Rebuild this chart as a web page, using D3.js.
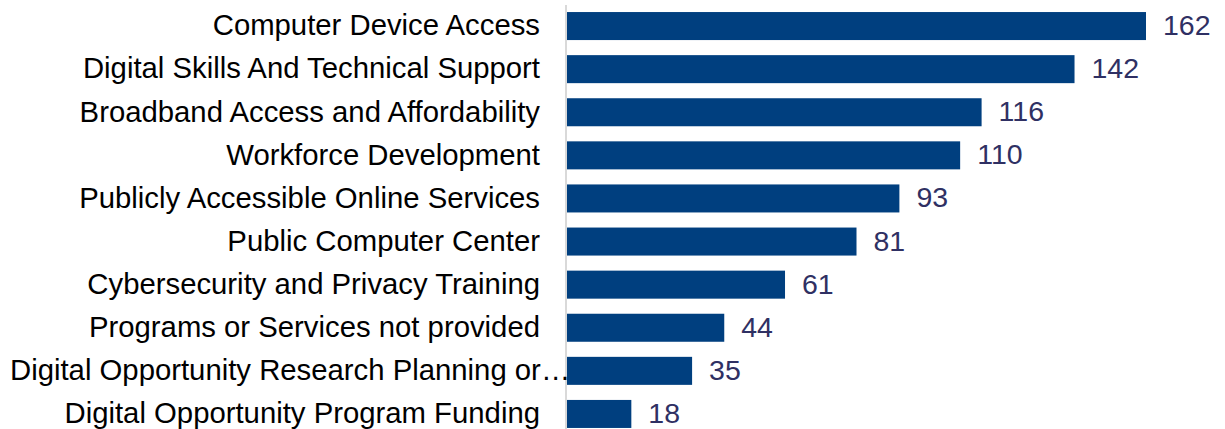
<!DOCTYPE html>
<html><head><meta charset="utf-8">
<script src="https://cdn.jsdelivr.net/npm/d3@7"></script>
<style>html,body{margin:0;padding:0;background:#fff;overflow:hidden}</style>
</head><body>
<svg id="c" width="1225" height="429"></svg>
<script>
const categories = [
  "Computer Device Access",
  "Digital Skills And Technical Support",
  "Broadband Access and Affordability",
  "Workforce Development",
  "Publicly Accessible Online Services",
  "Public Computer Center",
  "Cybersecurity and Privacy Training",
  "Programs or Services not provided",
  "Digital Opportunity Research Planning or…",
  "Digital Opportunity Program Funding"
];
const values = [162, 142, 116, 110, 93, 81, 61, 44, 35, 18];

const svg = d3.select("#c");
const x0 = 567;
const x = d3.scaleLinear().domain([0, 162]).range([x0, 1146]);
const y = d3.scaleBand().domain(categories).range([4.5, 435.5]).paddingInner(0.35).paddingOuter(0.175);
const font = "Arial, 'Liberation Sans', sans-serif";

svg.append("line").attr("x1", 566).attr("x2", 566).attr("y1", 5).attr("y2", 429)
  .attr("stroke", "#d9d9d9").attr("stroke-width", 2);

svg.selectAll("rect.bar").data(values).join("rect").attr("class", "bar")
  .attr("x", x(0)).attr("y", (d, i) => y(categories[i]))
  .attr("width", d => x(d) - x(0)).attr("height", y.bandwidth())
  .attr("fill", "#003f7f");

svg.selectAll("text.val").data(values).join("text").attr("class", "val")
  .attr("x", d => x(d) + 17).attr("y", (d, i) => y(categories[i]) + y.bandwidth() / 2 - 1)
  .attr("dy", "0.35em").attr("font-family", font).attr("font-size", 28.5)
  .attr("fill", "#2f3063").text(d => d);

const labels = svg.selectAll("text.lab").data(categories).join("text").attr("class", "lab")
  .attr("y", d => y(d) + y.bandwidth() / 2 - 1)
  .attr("dy", "0.35em").attr("font-family", font).attr("font-size", 29.3)
  .attr("fill", "#000").text(d => d);
labels.each(function () {
  const t = d3.select(this);
  const w = this.getComputedTextLength();
  if (w > 530) t.attr("x", 10).attr("text-anchor", "start");
  else t.attr("x", 540).attr("text-anchor", "end");
});
</script>
</body></html>
